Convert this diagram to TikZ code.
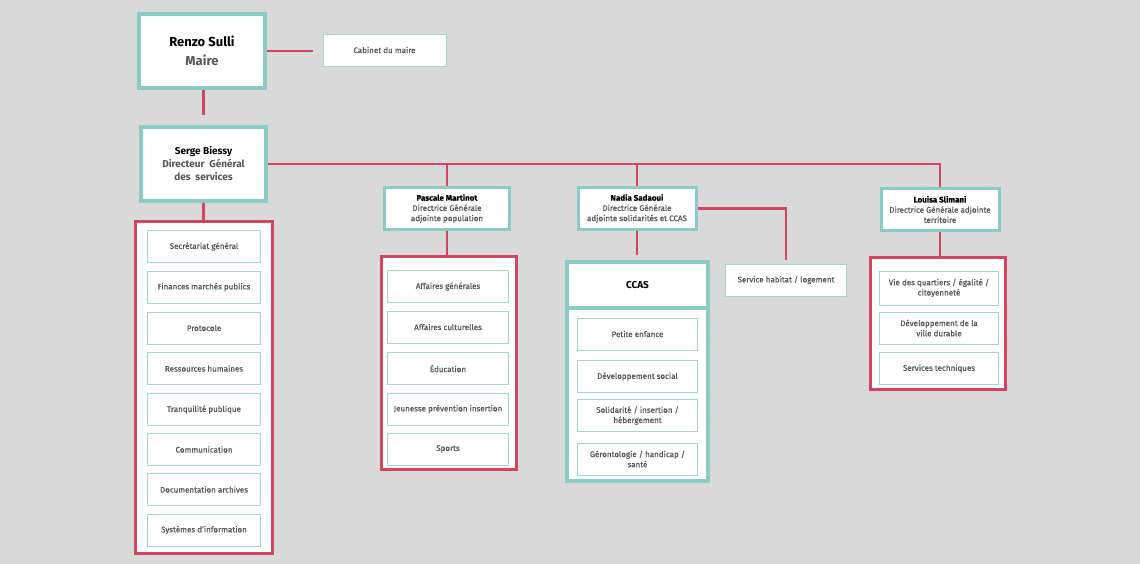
\documentclass[tikz,border=0pt]{standalone}
\usepackage{fontspec}
\setmainfont{Fira Sans}
\newfontfamily\moyen{Fira Sans}[FakeBold=0.6]
\definecolor{fond}{HTML}{D9D9D9}
\definecolor{sarcelle}{HTML}{8BCBC6}
\definecolor{rouge}{HTML}{D3455E}
\definecolor{gristexte}{HTML}{555555}
\begin{document}
\begin{tikzpicture}[x=1pt,y=-1pt,
  chef/.style={draw=sarcelle,line width=4pt,fill=white,inner sep=0pt,align=center},
  adjoint/.style={draw=sarcelle,line width=3pt,fill=white,inner sep=0pt,align=center,minimum height=42pt,font=\moyen\fontsize{8}{10.2}\selectfont},
  groupe/.style={draw=rouge,line width=2.5pt,fill=white,inner sep=0pt},
  service/.style={draw=sarcelle!80,line width=0.8pt,fill=white,inner sep=0pt,align=center,minimum height=32pt,text=gristexte,font=\moyen\fontsize{8}{10.2}\selectfont},
  lien/.style={draw=rouge,line width=2.5pt}]
%fond
\fill[fond] (0,0) rectangle (1140,564);
%maire
\node[chef,minimum width=126pt,minimum height=74pt,font=\fontsize{13}{19}\selectfont\bfseries] (maire) at (202,51)
  {Renzo Sulli\\\color{gristexte}Maire};
\node[service,minimum width=123pt] (cabinet) at (384.5,50) {Cabinet du maire};
%DGS
\node[chef,minimum width=125pt,minimum height=74pt,font=\fontsize{10}{13}\selectfont\bfseries] (dgs) at (203.5,164)
  {Serge Biessy\\\color{gristexte}Directeur~ Général\\\color{gristexte}des~ services};
%adjoints
\node[adjoint,minimum width=125pt] (population) at (447,208.5)
  {\bfseries Pascale Martinot\\\color{gristexte}Directrice Générale\\\color{gristexte}adjointe population};
\node[adjoint,minimum width=118pt] (solidarites) at (637,208.5)
  {\bfseries Nadia Sadaoui\\\color{gristexte}Directrice Générale\\\color{gristexte}adjointe solidarités et CCAS};
\node[adjoint,minimum width=118pt] (territoire) at (940,209.5)
  {\bfseries Louisa Slimani\\\color{gristexte}Directrice Générale adjointe\\\color{gristexte}territoire};
\node[service,minimum width=121pt] (habitat) at (786,280) {Service habitat / logement};
%groupes
\node[groupe,minimum width=137pt,minimum height=332pt] (gdgs) at (204,387.5) {};
\node[groupe,minimum width=135pt,minimum height=213pt] (gpopulation) at (449,363) {};
\node[groupe,minimum width=135pt,minimum height=132pt] (gterritoire) at (938,323.5) {};
\node[draw=sarcelle,line width=3.5pt,fill=white,inner sep=0pt,minimum width=141pt,minimum height=173pt] (gccas) at (637.5,394.5) {};
\node[draw=sarcelle,line width=3.5pt,fill=white,inner sep=0pt,minimum width=141pt,minimum height=46pt,font=\fontsize{10}{12}\selectfont\bfseries] (ccas) at (637.5,285) {CCAS};
%services DGS
\node[service,minimum width=113pt] (secretariat) at (204,246.5) {Secrétariat général};
\node[service,minimum width=113pt] (finances) at (204,287) {Finances marchés publics};
\node[service,minimum width=113pt] (protocole) at (204,328) {Protocole};
\node[service,minimum width=113pt] (rh) at (204,368.5) {Ressources humaines};
\node[service,minimum width=113pt] (tranquillite) at (204,409.5) {Tranquilité publique};
\node[service,minimum width=113pt] (communication) at (204,449.5) {Communication};
\node[service,minimum width=113pt] (documentation) at (204,489.5) {Documentation archives};
\node[service,minimum width=113pt] (si) at (204,530) {Systèmes d’information};
%services population
\node[service,minimum width=121pt] (affgen) at (448,286.5) {Affaires générales};
\node[service,minimum width=121pt] (affcult) at (448,327) {Affaires culturelles};
\node[service,minimum width=121pt] (education) at (448,368.5) {Éducation};
\node[service,minimum width=121pt] (jeunesse) at (448,409) {Jeunesse prévention insertion};
\node[service,minimum width=121pt] (sports) at (448,449) {Sports};
%services CCAS
\node[service,minimum width=120pt] (enfance) at (637.5,334) {Petite enfance};
\node[service,minimum width=120pt] (social) at (637.5,376.5) {Développement social};
\node[service,minimum width=120pt] (insertion) at (637.5,415.5) {Solidarité / insertion /\\hébergement};
\node[service,minimum width=120pt] (geronto) at (637.5,459) {Gérontologie / handicap /\\santé};
%services territoire
\node[service,minimum width=119pt,minimum height=34pt] (quartiers) at (939,288) {Vie des quartiers / égalité /\\citoyenneté};
\node[service,minimum width=119pt] (durable) at (939,328) {Développement de la\\ville durable};
\node[service,minimum width=119pt] (techniques) at (939,368.5) {Services techniques};
%liens
\draw[lien,shorten >=10pt] (maire.east) -- (maire.east -| cabinet.west);
\draw[lien,shorten >=10pt] (dgs.north |- maire.south) -- (dgs.north);
\draw[lien] (dgs.east) -| (territoire.north);
\draw[lien] (population.north) -- (population.north |- dgs.east);
\draw[lien] (solidarites.north) -- (solidarites.north |- dgs.east);
\draw[lien,shorten >=4pt] (solidarites.east) -| (habitat.north);
\draw[lien] (dgs.south) -- (dgs.south |- gdgs.north);
\draw[lien] (population.south) -- (population.south |- gpopulation.north);
\draw[lien,shorten >=5pt] (solidarites.south) -- (solidarites.south |- ccas.north);
\draw[lien] (territoire.south) -- (territoire.south |- gterritoire.north);
\end{tikzpicture}
\end{document}
